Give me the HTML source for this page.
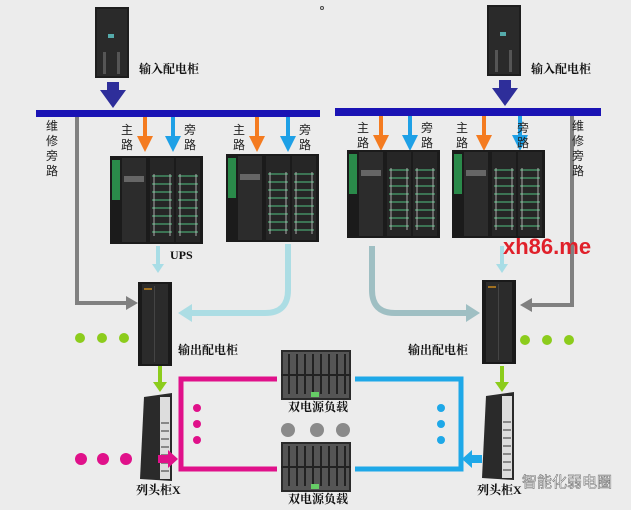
<!DOCTYPE html>
<html><head><meta charset="utf-8"><style>
html,body{margin:0;padding:0;background:#ececec;}
svg{display:block}
text{font-family:"Liberation Serif","Noto Serif CJK SC",serif;}
.l{font-size:12px;font-weight:bold;fill:#111}
.v{font-size:12px;fill:#222;font-family:"Liberation Sans","Noto Sans CJK SC",sans-serif}
</style></head><body>
<svg width="631" height="510" viewBox="0 0 631 510" xmlns="http://www.w3.org/2000/svg">
<defs>
<marker id="ao" markerWidth="4" markerHeight="4" refX="2" refY="2" orient="auto" markerUnits="strokeWidth"><path d="M0,0L4,2L0,4z" fill="#f47b20"/></marker>
<marker id="ab" markerWidth="4" markerHeight="4" refX="2" refY="2" orient="auto" markerUnits="strokeWidth"><path d="M0,0L4,2L0,4z" fill="#1ea0e6"/></marker>
<g id="ups">
<rect x="0" y="0" width="93" height="88" fill="#1b1b1b"/>
<rect x="2" y="4" width="8" height="40" fill="#2a8a4a"/>
<rect x="12" y="2" width="24" height="84" fill="#2c2c2c"/>
<rect x="14" y="20" width="20" height="6" fill="#666"/>
<rect x="40" y="2" width="24" height="84" fill="#262626"/>
<rect x="66" y="2" width="24" height="84" fill="#262626"/>
<g stroke="#4aa370" stroke-width="1.2">
<path d="M42,20h20M42,28h20M42,36h20M42,44h20M42,52h20M42,60h20M42,68h20M42,76h20"/>
<path d="M68,20h20M68,28h20M68,36h20M68,44h20M68,52h20M68,60h20M68,68h20M68,76h20"/>
</g>
<g stroke="#ccc" stroke-width="0.8"><path d="M44,18v62M60,18v62M70,18v62M86,18v62"/></g>
</g>
<g id="rack"><rect x="0" y="0" width="34" height="84" fill="#1a1a1a"/><rect x="4" y="2" width="26" height="80" fill="#2b2b2b"/><rect x="16" y="4" width="1" height="76" fill="#444"/><rect x="6" y="6" width="8" height="2" fill="#a07020"/></g>
<g id="col"><path d="M4,4L32,0V88L0,86z" fill="#2a2a2a"/><rect x="20" y="4" width="10" height="82" fill="#ddd"/><g stroke="#333"><path d="M21,30h8M21,38h8M21,46h8M21,54h8M21,62h8M21,70h8M21,78h8"/></g></g>
<g id="srv"><rect x="0" y="0" width="70" height="50" fill="#2a2a2a"/><rect x="2" y="2" width="66" height="46" fill="#555"/>
<g stroke="#222" stroke-width="2"><path d="M8,4v40M16,4v40M24,4v40M32,4v40M40,4v40M48,4v40M56,4v40M64,4v40"/></g>
<rect x="0" y="24" width="70" height="2" fill="#222"/><rect x="30" y="42" width="8" height="5" fill="#6c6"/></g>
<g id="inc"><rect x="0" y="0" width="34" height="71" fill="#1e1e1e"/><rect x="2" y="2" width="30" height="67" fill="#2a2a2a"/><rect x="13" y="27" width="6" height="4" fill="#5aa"/><rect x="8" y="45" width="3" height="22" fill="#555"/><rect x="22" y="45" width="3" height="22" fill="#555"/></g>
</defs>

<!-- input cabinets -->
<use href="#inc" x="95" y="7"/>
<use href="#inc" x="487" y="5"/>
<text class="l" x="139" y="73">输入配电柜</text>
<text class="l" x="531" y="73">输入配电柜</text>
<path d="M107,82h12v8h7l-13,18l-13,-18h7z" fill="#2e2e9a"/>
<path d="M499,80h12v8h7l-13,18l-13,-18h7z" fill="#2e2e9a"/>
<!-- buses -->
<rect x="36" y="110" width="284" height="7" fill="#1a13b4"/>
<rect x="335" y="108" width="266" height="8" fill="#1a13b4"/>

<!-- maintenance bypass -->
<path d="M77,117V303H128" fill="none" stroke="#808080" stroke-width="4"/>
<path d="M126,296l12,7l-12,7z" fill="#808080"/>
<path d="M572,116V305H530" fill="none" stroke="#808080" stroke-width="4"/>
<path d="M532,298l-12,7l12,7z" fill="#808080"/>
<text class="v" x="46" y="130">维</text><text class="v" x="46" y="145">修</text><text class="v" x="46" y="160">旁</text><text class="v" x="46" y="175">路</text>
<text class="v" x="572" y="130">维</text><text class="v" x="572" y="145">修</text><text class="v" x="572" y="160">旁</text><text class="v" x="572" y="175">路</text>

<!-- branch arrows -->
<g stroke-width="4" fill="none">
<path d="M145,117V144" stroke="#f47b20" marker-end="url(#ao)"/>
<path d="M173,117V144" stroke="#1ea0e6" marker-end="url(#ab)"/>
<path d="M257,117V144" stroke="#f47b20" marker-end="url(#ao)"/>
<path d="M288,117V144" stroke="#1ea0e6" marker-end="url(#ab)"/>
<path d="M381,116V143" stroke="#f47b20" marker-end="url(#ao)"/>
<path d="M410,116V143" stroke="#1ea0e6" marker-end="url(#ab)"/>
<path d="M484,116V143" stroke="#f47b20" marker-end="url(#ao)"/>
<path d="M520,116V143" stroke="#1ea0e6" marker-end="url(#ab)"/>
</g>
<g class="v">
<text class="v" x="121" y="134">主</text><text class="v" x="121" y="149">路</text>
<text class="v" x="184" y="134">旁</text><text class="v" x="184" y="149">路</text>
<text class="v" x="233" y="134">主</text><text class="v" x="233" y="149">路</text>
<text class="v" x="299" y="134">旁</text><text class="v" x="299" y="149">路</text>
<text class="v" x="357" y="132">主</text><text class="v" x="357" y="147">路</text>
<text class="v" x="421" y="132">旁</text><text class="v" x="421" y="147">路</text>
<text class="v" x="456" y="132">主</text><text class="v" x="456" y="147">路</text>
<text class="v" x="517" y="132">旁</text><text class="v" x="517" y="147">路</text>
</g>

<!-- UPS -->
<use href="#ups" x="110" y="156"/>
<use href="#ups" x="226" y="154"/>
<use href="#ups" x="347" y="150"/>
<use href="#ups" x="452" y="150"/>
<text class="l" x="170" y="259">UPS</text>

<!-- UPS outputs -->
<path d="M158,246V266" stroke="#a8dde6" stroke-width="4"/><path d="M152,264l6,9l6,-9z" fill="#a8dde6"/>
<path d="M502,246V266" stroke="#a8dde6" stroke-width="4"/><path d="M496,264l6,9l6,-9z" fill="#a8dde6"/>
<path d="M288,244V290Q288,313 265,313H190" fill="none" stroke="#acdde4" stroke-width="6"/>
<path d="M192,304l-14,9l14,9z" fill="#acdde4"/>
<path d="M372,246V290Q372,313 395,313H468" fill="none" stroke="#9fbfc3" stroke-width="6"/>
<path d="M466,304l14,9l-14,9z" fill="#9fbfc3"/>

<!-- output cabinets -->
<use href="#rack" x="138" y="282"/>
<use href="#rack" x="482" y="280"/>
<text class="l" x="178" y="354">输出配电柜</text>
<text class="l" x="408" y="354">输出配电柜</text>
<g fill="#8ccc1c"><circle cx="80" cy="338" r="5"/><circle cx="102" cy="338" r="5"/><circle cx="124" cy="338" r="5"/>
<circle cx="525" cy="340" r="5"/><circle cx="547" cy="340" r="5"/><circle cx="569" cy="340" r="5"/></g>
<path d="M160,366V384" stroke="#8ccc1c" stroke-width="4"/><path d="M153,382l7,10l7,-10z" fill="#8ccc1c"/>
<path d="M502,366V384" stroke="#8ccc1c" stroke-width="4"/><path d="M495,382l7,10l7,-10z" fill="#8ccc1c"/>

<!-- column cabinets -->
<use href="#col" x="140" y="393"/>
<use href="#col" x="482" y="392"/>
<text class="l" x="136" y="494">列头柜X</text>
<text class="l" x="477" y="494">列头柜X</text>

<!-- magenta loop -->
<path d="M277,379H181V469H277" fill="none" stroke="#e0118a" stroke-width="5"/>
<g fill="#e0118a"><circle cx="81" cy="459" r="6"/><circle cx="103" cy="459" r="6"/><circle cx="126" cy="459" r="6"/>
<circle cx="197" cy="408" r="4"/><circle cx="197" cy="424" r="4"/><circle cx="197" cy="440" r="4"/></g>
<path d="M158,455h10v-5l10,9l-10,9v-5h-10z" fill="#e0118a"/>
<!-- blue loop -->
<path d="M355,379H461V469H355" fill="none" stroke="#1ea8e8" stroke-width="5"/>
<g fill="#1ea8e8"><circle cx="441" cy="408" r="4"/><circle cx="441" cy="424" r="4"/><circle cx="441" cy="440" r="4"/></g>
<path d="M482,455h-10v-5l-10,9l10,9v-5h10z" fill="#1ea8e8"/>

<!-- servers -->
<use href="#srv" x="281" y="350"/>
<use href="#srv" x="281" y="442"/>
<text class="l" x="288" y="411">双电源负载</text>
<text class="l" x="288" y="503">双电源负载</text>
<g fill="#8a8a8a"><circle cx="288" cy="430" r="7"/><circle cx="317" cy="430" r="7"/><circle cx="343" cy="430" r="7"/></g>

<!-- watermarks -->
<text x="503" y="254" style="font-family:'Liberation Sans',sans-serif;font-size:22px;font-weight:bold;fill:#e0202a">xh86.me</text>
<text x="522" y="487" style="font-family:'Liberation Sans','Noto Sans CJK SC',sans-serif;font-size:15px;fill:#fff;stroke:#777;stroke-width:0.6">智能化弱电圈</text>
<circle cx="322" cy="8" r="1.5" fill="none" stroke="#444"/>
</svg>
</body></html>
